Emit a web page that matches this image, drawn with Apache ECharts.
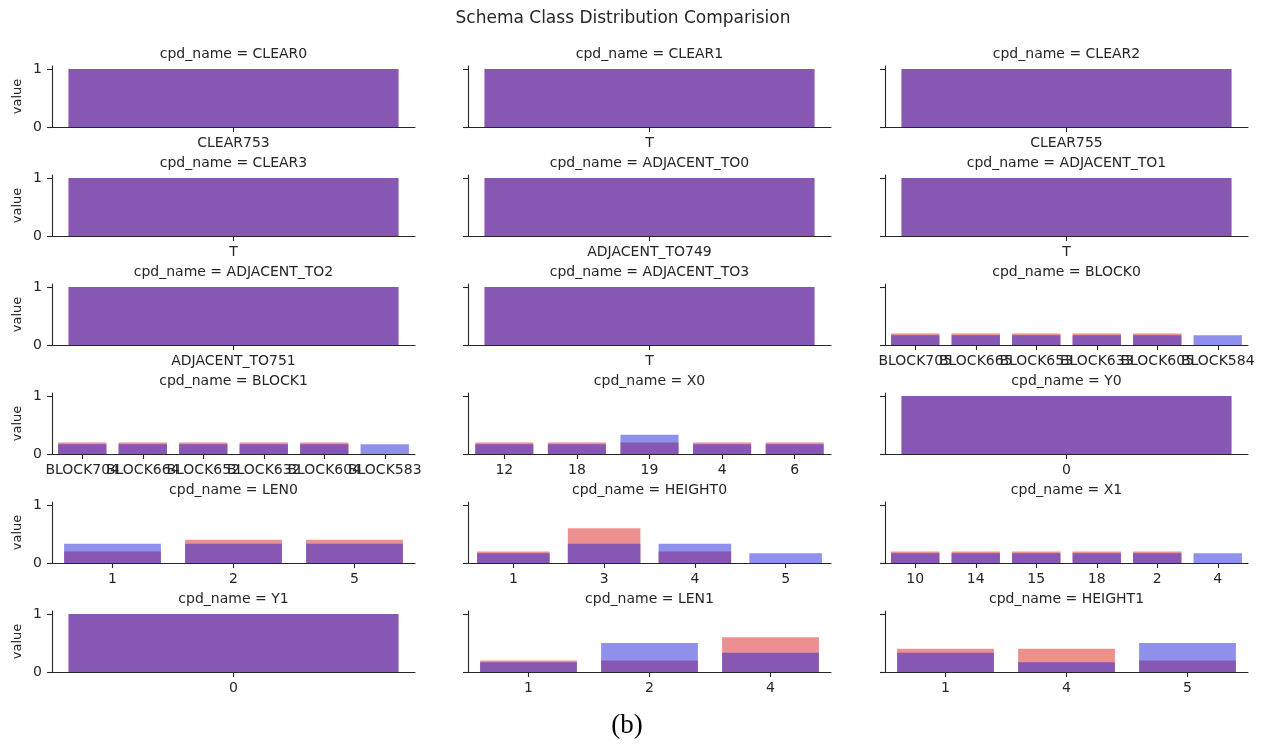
<!DOCTYPE html>
<html>
<head>
<meta charset="utf-8">
<script src="https://cdn.jsdelivr.net/npm/echarts@6/dist/echarts.min.js"></script>
<style>
html,body{margin:0;padding:0;background:#fff;}
#chart{width:1263px;height:745px;}
</style>
</head>
<body>
<div id="chart"></div>
<script>
// ---- data ----
const chartTitle = 'Schema Class Distribution Comparision';
const figureCaption = '(b)';
const facetNames = ['CLEAR0','CLEAR1','CLEAR2','CLEAR3','ADJACENT_TO0','ADJACENT_TO1',
  'ADJACENT_TO2','ADJACENT_TO3','BLOCK0','BLOCK1','X0','Y0','LEN0','HEIGHT0','X1','Y1','LEN1','HEIGHT1'];
const facetCategories = [
  ['CLEAR753'], ['T'], ['CLEAR755'],
  ['T'], ['ADJACENT_TO749'], ['T'],
  ['ADJACENT_TO751'], ['T'], ['BLOCK705','BLOCK665','BLOCK653','BLOCK633','BLOCK605','BLOCK584'],
  ['BLOCK704','BLOCK664','BLOCK652','BLOCK632','BLOCK604','BLOCK583'], ['12','18','19','4','6'], ['0'],
  ['1','2','5'], ['1','3','4','5'], ['10','14','15','18','2','4'],
  ['0'], ['1','2','4'], ['1','4','5']
];
const redValues = [
  [1], [1], [1],
  [1], [1], [1],
  [1], [1], [0.2,0.2,0.2,0.2,0.2,0],
  [0.2,0.2,0.2,0.2,0.2,0], [0.2,0.2,0.2,0.2,0.2], [1],
  [0.2,0.4,0.4], [0.2,0.6,0.2,0], [0.2,0.2,0.2,0.2,0.2,0],
  [1], [0.2,0.2,0.6], [0.4,0.4,0.2]
];
const blueValues = [
  [1], [1], [1],
  [1], [1], [1],
  [1], [1], [0.167,0.167,0.167,0.167,0.167,0.167],
  [0.167,0.167,0.167,0.167,0.167,0.167], [0.167,0.167,0.333,0.167,0.167], [1],
  [0.333,0.333,0.333], [0.167,0.333,0.333,0.167], [0.167,0.167,0.167,0.167,0.167,0.167],
  [1], [0.167,0.5,0.333], [0.333,0.167,0.5]
];
const yTickValues = [0, 1];
const yAxisLabel = 'value';
const facetPrefix = 'cpd_name = ';

// ---- layout / style ----
const colLefts = [52, 468, 885];
const plotW = 363;
const rowBottoms = [127, 236, 345, 454, 563, 672];
const plotH = 61;
const yMax = 1.05;
const ink = '#262626';
const font = 'DejaVu Sans';
const redColor = 'rgba(217,31,31,0.5)';
const blueColor = 'rgba(31,33,217,0.5)';

const grids = [], xAxes = [], yAxes = [], series = [], titles = [];
titles.push({
  text: chartTitle, left: 623, top: 10, textAlign: 'center', padding: 0,
  textStyle: {fontFamily: font, fontSize: 17, fontWeight: 'normal', color: ink}
});
titles.push({
  text: figureCaption, left: 627, top: 712, textAlign: 'center', padding: 0,
  textStyle: {fontFamily: 'Liberation Serif', fontSize: 27, fontWeight: 'normal', color: '#000'}
});

facetNames.forEach((name, i) => {
  const r = Math.floor(i / 3), c = i % 3;
  const cats = facetCategories[i];
  const n = cats.length;
  const xmin = n === 1 ? -0.44 : -0.5;
  const xmax = n === 1 ? 0.44 : n - 0.5;
  const top = rowBottoms[r] - plotH;
  const barPx = 0.8 * plotW / (xmax - xmin);
  const idx = cats.map((_, j) => j);
  const evenIdx = idx.filter(j => j % 2 === 0);
  const oddIdx = idx.filter(j => j % 2 === 1);
  const labelStyle = {margin: 9, fontFamily: font, fontSize: 14, color: ink,
    hideOverlap: false, showMinLabel: true, showMaxLabel: true, formatter: v => cats[Math.round(v)]};
  grids.push({left: colLefts[c], top: top, width: plotW, height: plotH});
  // main x axis: line, ticks, labels at even positions
  xAxes.push({
    type: 'value', gridIndex: i, min: xmin, max: xmax, position: 'bottom', offset: 0,
    axisLine: {show: true, onZero: false, lineStyle: {color: ink, width: 1.1}},
    axisTick: {show: true, customValues: idx, length: 5, lineStyle: {color: ink, width: 1.1}},
    axisLabel: Object.assign({show: true, customValues: evenIdx}, labelStyle),
    splitLine: {show: false}
  });
  // companion x axis carrying labels at odd positions (so overlapping labels are all drawn)
  xAxes.push({
    type: 'value', gridIndex: i, min: xmin, max: xmax, position: 'bottom', offset: 0,
    axisLine: {show: false, onZero: false}, axisTick: {show: false},
    axisLabel: Object.assign({show: oddIdx.length > 0, customValues: oddIdx.length ? oddIdx : [0]}, labelStyle),
    splitLine: {show: false}
  });
  yAxes.push({
    type: 'value', gridIndex: i, min: 0, max: yMax,
    name: c === 0 ? yAxisLabel : '', nameLocation: 'middle', nameGap: 28,
    nameTextStyle: {fontFamily: font, fontSize: 13, color: ink},
    axisLine: {show: true, onZero: false, lineStyle: {color: ink, width: 1.1}},
    axisTick: {show: true, customValues: yTickValues, length: 5, lineStyle: {color: ink, width: 1.1}},
    axisLabel: {show: c === 0, customValues: yTickValues, margin: 10, fontFamily: font, fontSize: 14, color: ink,
      showMinLabel: true, showMaxLabel: true},
    splitLine: {show: false}
  });
  titles.push({
    text: facetPrefix + name, left: colLefts[c] + plotW / 2, top: top - 19, textAlign: 'center', padding: 0,
    textStyle: {fontFamily: font, fontSize: 14, fontWeight: 'normal', color: ink}
  });
  const mk = (vals) => vals.map((v, j) => [j, v]).filter(d => d[1] > 0);
  series.push({
    type: 'bar', xAxisIndex: 2 * i, yAxisIndex: i, data: mk(redValues[i]),
    barWidth: barPx, barGap: '-100%', itemStyle: {color: redColor}, silent: true
  });
  series.push({
    type: 'bar', xAxisIndex: 2 * i, yAxisIndex: i, data: mk(blueValues[i]),
    barWidth: barPx, barGap: '-100%', itemStyle: {color: blueColor}, silent: true
  });
});

const chart = echarts.init(document.getElementById('chart'), null, {renderer: 'canvas'});
chart.setOption({
  animation: false,
  backgroundColor: '#fff',
  title: titles,
  grid: grids,
  xAxis: xAxes,
  yAxis: yAxes,
  series: series
});
</script>
</body>
</html>
